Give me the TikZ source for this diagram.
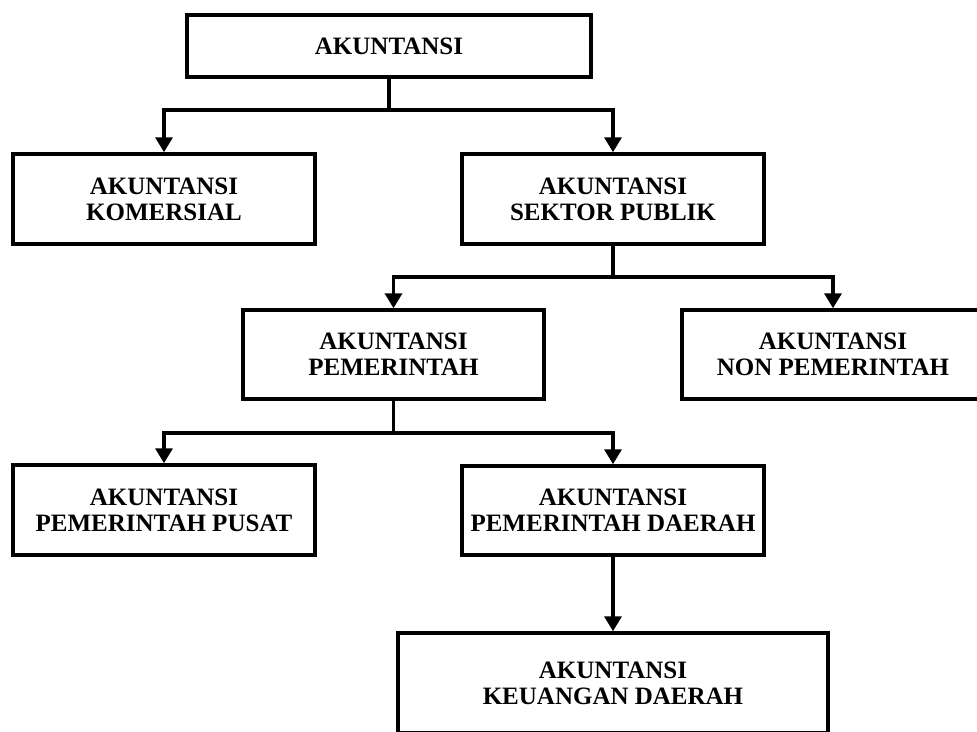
\documentclass[tikz,border=0pt]{standalone}
\usepackage{fontspec}
\setmainfont{Liberation Serif}
\usetikzlibrary{arrows.meta}
\tikzset{
  box/.style={draw=black, line width=3.5pt, fill=white, align=center,
    font=\bfseries\fontsize{25}{26}\selectfont, inner sep=2pt},
  conn/.style={line width=3.5pt, line join=miter},
  arr/.style={conn, -{Triangle[width=17pt,length=15pt]}}
}
\begin{document}
\begin{tikzpicture}[x=1pt,y=-1pt]
\useasboundingbox (0,0) rectangle (977,731);
\clip (0,0) rectangle (977,731);
\fill[white] (0,0) rectangle (977,731);
\node[box, minimum width=404pt, minimum height=62pt] (top) at (389,46) {AKUNTANSI};
\node[box, minimum width=302pt, minimum height=90pt] (kom) at (164,199) {AKUNTANSI\\KOMERSIAL};
\node[box, minimum width=302pt, minimum height=90pt] (sek) at (613,199) {AKUNTANSI\\SEKTOR PUBLIK};
\node[box, minimum width=301pt, minimum height=89pt] (pem) at (393.5,354.5) {AKUNTANSI\\PEMERINTAH};
\node[box, minimum width=302pt, minimum height=89pt] (non) at (833,354.5) {AKUNTANSI\\NON PEMERINTAH};
\node[box, minimum width=302pt, minimum height=90pt] (pus) at (164,510) {AKUNTANSI\\PEMERINTAH PUSAT};
\node[box, minimum width=302pt, minimum height=89pt] (dae) at (613,510.5) {AKUNTANSI\\PEMERINTAH DAERAH};
\node[box, minimum width=430pt, minimum height=100pt] (keu) at (613,683) {AKUNTANSI\\KEUANGAN DAERAH};
\coordinate (j1) at (389,110);
\coordinate (j2) at (613,277);
\coordinate (j3) at (393.5,433);
\draw[conn] (top.south) -- (j1);
\draw[arr] (j1) -| (kom.north);
\draw[arr] (j1) -| (sek.north);
\draw[conn] (sek.south) -- (j2);
\draw[arr] (j2) -| (pem.north);
\draw[arr] (j2) -| (non.north);
\draw[conn] (pem.south) -- (j3);
\draw[arr] (j3) -| (pus.north);
\draw[arr] (j3) -| (dae.north);
\draw[arr] (dae.south) -- (keu.north);
\end{tikzpicture}
\end{document}
